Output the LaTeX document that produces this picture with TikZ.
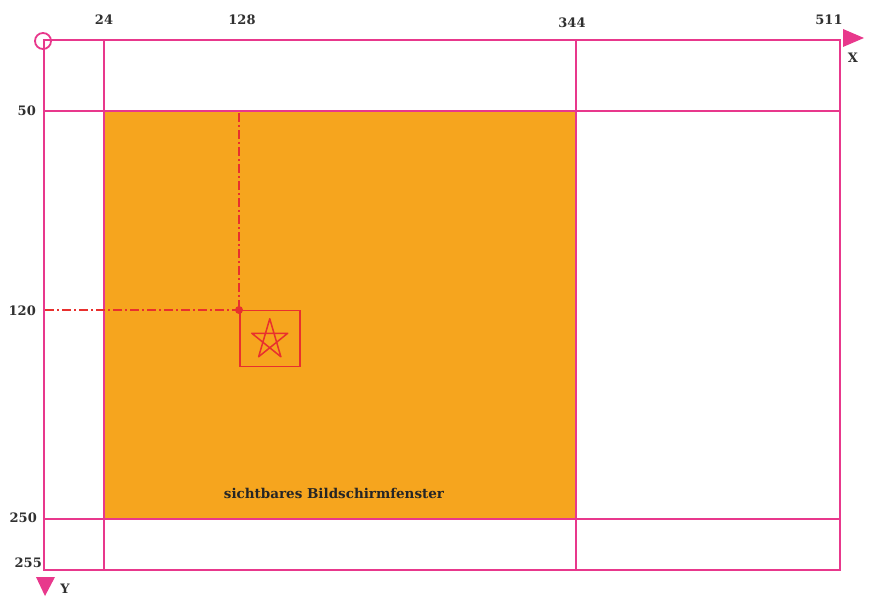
\documentclass[tikz,border=0pt]{standalone}
\usepackage{fontspec}
\setmainfont{DejaVu Serif}
\definecolor{gridpink}{HTML}{E8388C}
\definecolor{fillorange}{HTML}{F6A51E}
\definecolor{markred}{HTML}{E8302E}
\definecolor{labelgray}{HTML}{303030}
\begin{document}
\begin{tikzpicture}[x=1pt,y=-1pt,
  gridline/.style={draw=gridpink,line width=1.8pt},
  markline/.style={draw=markred,line width=1.6pt,dash pattern=on 9pt off 3pt on 2pt off 3pt},
  marksolid/.style={draw=markred,line width=1.5pt},
  lbl/.style={font=\bfseries\fontsize{13}{15}\selectfont,text=labelgray,inner sep=0pt},
  arrowtri/.style={fill=gridpink,draw=none}]
\useasboundingbox (0,0) rectangle (873,609);
% coordinates
\coordinate (tl) at (44,40);
\coordinate (br) at (840,570);
\coordinate (vis-tl) at (104,111);
\coordinate (vis-br) at (576,519);
% visible window fill
\fill[fillorange] (vis-tl) rectangle (vis-br);
% grid
\draw[gridline] (tl) rectangle (br);
\draw[gridline] (104,40) -- (104,570);
\draw[gridline] (576,40) -- (576,570);
\draw[gridline] (44,111) -- (840,111);
\draw[gridline] (44,519) -- (840,519);
% origin circle
\node[draw=gridpink,line width=1.8pt,circle,minimum size=16pt,inner sep=0pt] (origin) at (43,41) {};
% axis arrows
\fill[arrowtri] (843,29) -- (864,38) -- (843,47) -- cycle;
\fill[arrowtri] (36,577) -- (55,577) -- (45,596) -- cycle;
% sprite position
\coordinate (pos) at (239,310);
\coordinate (ytop) at (239,113);
\coordinate (xleft) at (45,310);
\draw[markline] (ytop) -- (pos);
\draw[markline] (xleft) -- (pos);
\fill[markred] (pos) circle (4pt);
\node[marksolid,draw,minimum width=60pt,minimum height=56pt,inner sep=0pt,anchor=north west] (sprite) at (pos) {};
\begin{scope}[shift={(sprite.center)},xscale=0.9,yshift=-1pt]
\draw[marksolid,line join=round] (90:-21) -- (234:-21) -- (18:-21) -- (162:-21) -- (306:-21) -- cycle;
\end{scope}
% labels
\node[lbl] (x24) at (104,20) {24};
\node[lbl] (x128) at (242,20) {128};
\node[lbl] (x344) at (572,23) {344};
\node[lbl] (x511) at (829,20) {511};
\node[lbl] (xlab) at (853,58) {X};
\node[lbl,anchor=east] (y50) at (36,111) {50};
\node[lbl,anchor=east] (y120) at (36,311) {120};
\node[lbl,anchor=east] (y250) at (37,518) {250};
\node[lbl,anchor=east] (y255) at (42,563) {255};
\node[lbl] (ylab) at (65,589) {Y};
\node[lbl,font=\bfseries\fontsize{13.5}{16}\selectfont,text=black!85] (caption) at (334,493) {sichtbares Bildschirmfenster};
\end{tikzpicture}
\end{document}
